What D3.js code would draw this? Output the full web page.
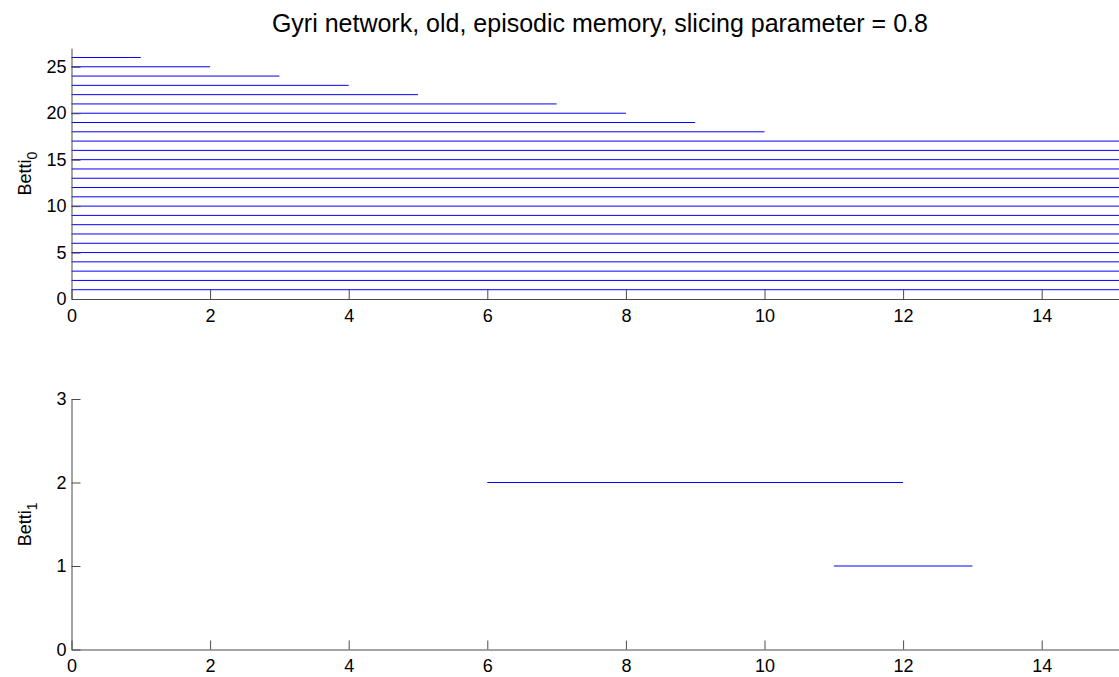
<!DOCTYPE html>
<html>
<head>
<meta charset="utf-8">
<script src="https://cdn.jsdelivr.net/npm/d3@7/dist/d3.min.js"></script>
<style>
  html, body { margin: 0; padding: 0; background: #fff; overflow: hidden; }
  svg { display: block; font-family: "Liberation Sans", Arial, Helvetica, sans-serif; }
</style>
</head>
<body>
<svg id="chart" width="1119" height="677"></svg>
<script>
// Persistence barcode, dimension 0: birth/death of each interval (null = never dies)
const betti0Rank  = [26, 25, 24, 23, 22, 21, 20, 19, 18, 17, 16, 15, 14, 13, 12, 11, 10, 9, 8, 7, 6, 5, 4, 3, 2, 1];
const betti0Birth = [0, 0, 0, 0, 0, 0, 0, 0, 0, 0, 0, 0, 0, 0, 0, 0, 0, 0, 0, 0, 0, 0, 0, 0, 0, 0];
const betti0Death = [1, 2, 3, 4, 5, 7, 8, 9, 10, null, null, null, null, null, null, null, null, null, null, null, null, null, null, null, null, null];

// Persistence barcode, dimension 1
const betti1Rank  = [2, 1];
const betti1Birth = [6, 11];
const betti1Death = [12, 13];

const xTicks = [0, 2, 4, 6, 8, 10, 12, 14];
const y0Ticks = [0, 5, 10, 15, 20, 25];
const y1Ticks = [0, 1, 2, 3];

const titleText = "Gyri network, old, episodic memory, slicing parameter = 0.8";

const xMax = 15.25;
const svg = d3.select("#chart");
const axisColor = "#4a4a4a";
const barColor = "#0000ff";
const fontFamily = "'Liberation Sans', Arial, Helvetica, sans-serif";

const x = d3.scaleLinear().domain([0, xMax]).range([71.5, 71.5 + 69.3 * xMax]);

function panel(ranks, births, deaths, yDomain, yRange, yTicks, sub) {
  const y = d3.scaleLinear().domain(yDomain).range(yRange);
  const g = svg.append("g");

  // interval bars
  g.selectAll("line.bar")
    .data(ranks.map((r, i) => ({ r, b: births[i], d: deaths[i] == null ? xMax : deaths[i] })))
    .join("line")
    .attr("class", "bar")
    .attr("x1", d => x(d.b))
    .attr("x2", d => x(d.d))
    .attr("y1", d => y(d.r))
    .attr("y2", d => y(d.r))
    .attr("stroke", barColor)
    .attr("stroke-width", 1);

  // axes with inward ticks
  const xa = g.append("g")
    .attr("transform", `translate(0,${y(yDomain[0])})`)
    .call(d3.axisBottom(x).tickValues(xTicks).tickFormat(d3.format("d")).tickSizeInner(-9).tickSizeOuter(0).tickPadding(10));
  const ya = g.append("g")
    .attr("transform", `translate(${x(0)},0)`)
    .call(d3.axisLeft(y).tickValues(yTicks).tickFormat(d3.format("d")).tickSizeInner(-9).tickSizeOuter(0).tickPadding(5));
  [xa, ya].forEach(a => {
    a.select(".domain").attr("stroke", axisColor);
    a.selectAll(".tick line").attr("stroke", axisColor);
    a.selectAll(".tick text").attr("fill", "#000").attr("font-size", 18)
      .attr("font-family", fontFamily);
  });

  // y label: Betti with subscript
  const cy = (yRange[0] + yRange[1]) / 2;
  const t = g.append("text")
    .attr("transform", `translate(31,${cy}) rotate(-90)`)
    .attr("text-anchor", "middle")
    .attr("font-size", 18)
    .attr("font-family", fontFamily)
    .attr("fill", "#000");
  t.append("tspan").text("Betti");
  t.append("tspan").attr("dy", 6).attr("font-size", 14).text(sub);
}

panel(betti0Rank, betti0Birth, betti0Death, [0, 27], [299, 48.2], y0Ticks, "0");
panel(betti1Rank, betti1Birth, betti1Death, [0, 3], [649.5, 399], y1Ticks, "1");

svg.append("text")
  .attr("x", (x(0) + x(xMax)) / 2)
  .attr("y", 32)
  .attr("text-anchor", "middle")
  .attr("font-size", 25)
  .attr("font-family", fontFamily)
  .attr("fill", "#000")
  .text(titleText);
</script>
</body>
</html>
